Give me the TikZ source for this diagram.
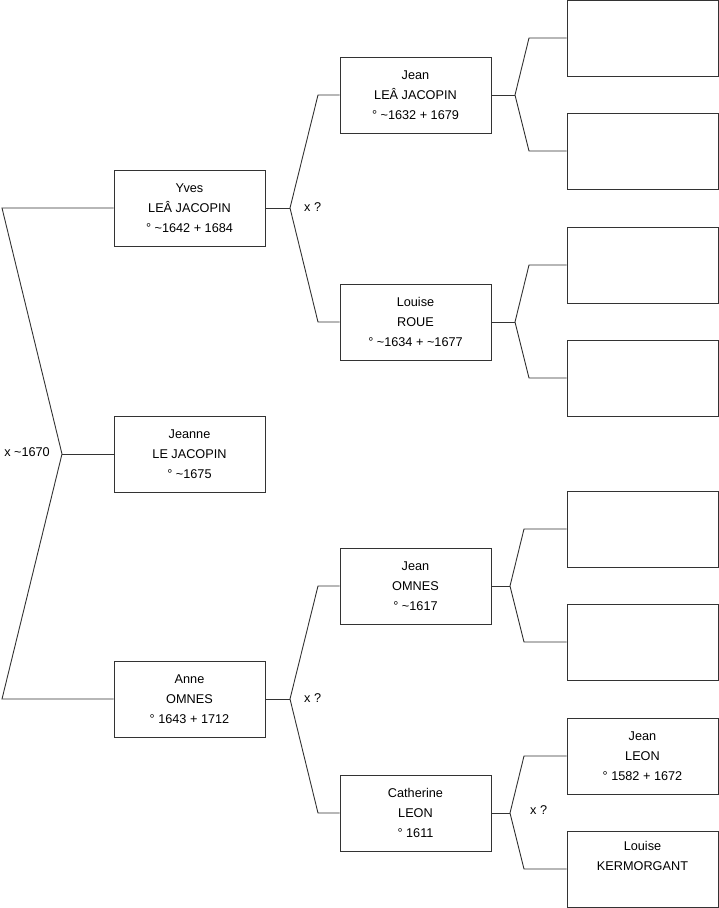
\documentclass[tikz,border=0pt]{standalone}
\usepackage{fontspec}
\setmainfont{Liberation Sans}
\begin{document}
\begin{tikzpicture}[x=1pt,y=-1pt,
  person/.style={draw=black!80, line width=0.9pt, fill=white, minimum width=151pt, minimum height=76pt,
    inner sep=0pt, align=center, font=\fontsize{12.7pt}{19.7pt}\selectfont},
  conn/.style={draw=black!80, line width=0.9pt},
  lbl/.style={font=\fontsize{12.7pt}{14pt}\selectfont, inner sep=0pt}]
\useasboundingbox (0,0) rectangle (719,908);
% generation 1
\node[person] (jeanne) at (189.5,454) {Jeanne\\LE JACOPIN\\° \textasciitilde1675};
% generation 2
\node[person] (yves) at (189.5,208) {Yves\\LEÂ JACOPIN\\° \textasciitilde1642 + 1684};
\node[person] (anne) at (189.5,699) {Anne\\OMNES\\° 1643 + 1712};
% generation 3
\node[person] (jean1) at (415.5,95) {Jean\\LEÂ JACOPIN\\° \textasciitilde1632 + 1679};
\node[person] (louise1) at (415.5,322) {Louise\\ROUE\\° \textasciitilde1634 + \textasciitilde1677};
\node[person] (jean2) at (415.5,586) {Jean\\OMNES\\° \textasciitilde1617};
\node[person] (cath) at (415.5,813) {Catherine\\LEON\\° 1611};
% generation 4
\node[person] (g1) at (642.5,38) {};
\node[person] (g2) at (642.5,151) {};
\node[person] (g3) at (642.5,265) {};
\node[person] (g4) at (642.5,378) {};
\node[person] (g5) at (642.5,529) {};
\node[person] (g6) at (642.5,642) {};
\node[person] (g7) at (642.5,756) {Jean\\LEON\\° 1582 + 1672};
\node[person] (g8) at (642.5,869) {Louise\\KERMORGANT\\\strut};
% couple connectors
\coordinate (v0) at (62,454);
\coordinate (v0a) at (2,208);
\coordinate (v0b) at (2,699);
\draw[conn] (yves.west) -- (v0a) -- (v0) -- (v0b) -- (anne.west);
\draw[conn] (jeanne.west) -- (v0);
\node[lbl, anchor=east] (l0) at (50,452) {x \textasciitilde1670};

\coordinate (v1) at (290,208);
\coordinate (v1a) at (318,95);
\coordinate (v1b) at (318,322);
\draw[conn] (jean1.west) -- (v1a) -- (v1) -- (v1b) -- (louise1.west);
\draw[conn] (yves.east) -- (v1);
\node[lbl, anchor=west] (l1) at (304,207) {x ?};

\coordinate (v2) at (290,699);
\coordinate (v2a) at (318,586);
\coordinate (v2b) at (318,813);
\draw[conn] (jean2.west) -- (v2a) -- (v2) -- (v2b) -- (cath.west);
\draw[conn] (anne.east) -- (v2);
\node[lbl, anchor=west] (l2) at (304,698) {x ?};

\coordinate (v3) at (515,95);
\coordinate (v3a) at (529,38);
\coordinate (v3b) at (529,151);
\draw[conn] (g1.west) -- (v3a) -- (v3) -- (v3b) -- (g2.west);
\draw[conn] (jean1.east) -- (v3);

\coordinate (v4) at (515,322);
\coordinate (v4a) at (529,265);
\coordinate (v4b) at (529,378);
\draw[conn] (g3.west) -- (v4a) -- (v4) -- (v4b) -- (g4.west);
\draw[conn] (louise1.east) -- (v4);

\coordinate (v5) at (510,586);
\coordinate (v5a) at (524,529);
\coordinate (v5b) at (524,642);
\draw[conn] (g5.west) -- (v5a) -- (v5) -- (v5b) -- (g6.west);
\draw[conn] (jean2.east) -- (v5);

\coordinate (v6) at (510,813);
\coordinate (v6a) at (524,756);
\coordinate (v6b) at (524,869);
\draw[conn] (g7.west) -- (v6a) -- (v6) -- (v6b) -- (g8.west);
\draw[conn] (cath.east) -- (v6);
\node[lbl, anchor=west] (l3) at (530,810) {x ?};
\end{tikzpicture}
\end{document}
